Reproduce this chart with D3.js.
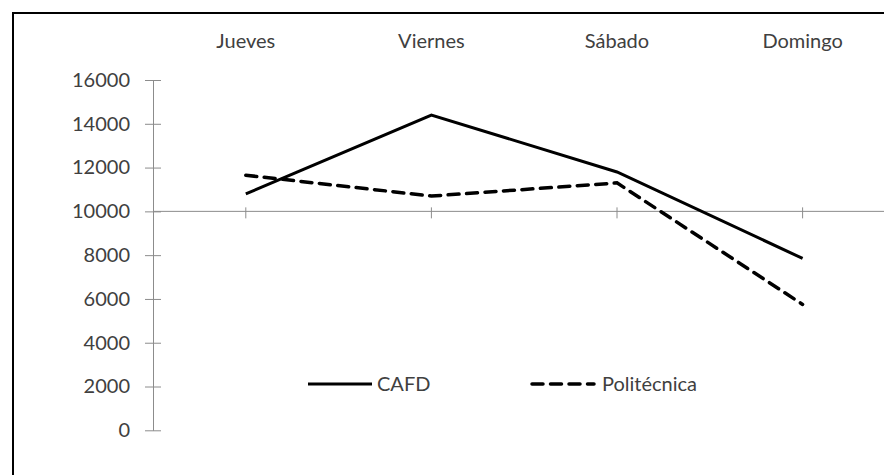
<!DOCTYPE html>
<html>
<head>
<meta charset="utf-8">
<script src="https://cdn.jsdelivr.net/npm/d3@7.9.0/dist/d3.min.js"></script>
<style>
  body { margin: 0; background: #fff; }
  svg { display: block; font-family: Lato, "Open Sans", sans-serif; }
  .lbl { fill: #404040; font-size: 20px; }
</style>
</head>
<body>
<svg id="chart" width="884" height="475"></svg>
<script>
const days = ["Jueves", "Viernes", "Sábado", "Domingo"];
const cafd = [10800, 14400, 11800, 7850];
const politecnica = [11650, 10700, 11300, 5750];
const yTicks = [0, 2000, 4000, 6000, 8000, 10000, 12000, 14000, 16000];
const seriesNames = ["CAFD", "Politécnica"];

const svg = d3.select("#chart");

// outer frame (runs off the right and bottom edge like the original)
svg.append("rect")
    .attr("x", 13).attr("y", 13)
    .attr("width", 900).attr("height", 500)
    .attr("fill", "none")
    .attr("stroke", "#000")
    .attr("stroke-width", 2);

const plotLeft = 153, plotTop = 80, plotBottom = 430.3;
const dash = "11,7.5";

let y = d3.scaleLinear().domain([0, 16000]).range([plotBottom, plotTop]);
let x = d3.scaleBand().domain(days).range([plotLeft, plotLeft + 4 * 185.6]);
let xc = d => x(d) + x.bandwidth() / 2;

// y axis
let yAxis = svg.append("g")
    .attr("transform", `translate(${plotLeft},0)`)
    .call(d3.axisLeft(y).tickValues(yTicks).tickFormat(d3.format("d")).tickSize(0).tickPadding(23));
yAxis.attr("font-family", null).attr("font-size", null);
yAxis.select(".domain").attr("stroke", "#8c8c8c");
yAxis.selectAll(".tick line")
    .attr("x1", -8).attr("x2", 8)
    .attr("stroke", "#8c8c8c");
yAxis.selectAll(".tick text")
    .attr("class", "lbl")
    .attr("fill", null);

// horizontal axis crosses at 10000
const y0 = y(10000);
svg.append("line")
    .attr("x1", plotLeft).attr("x2", 884)
    .attr("y1", y0).attr("y2", y0)
    .attr("stroke", "#8c8c8c");

svg.selectAll(".xtick")
    .data(days)
    .enter()
    .append("line")
    .attr("x1", xc).attr("x2", xc)
    .attr("y1", y0 - 4).attr("y2", y0 + 7)
    .attr("stroke", "#8c8c8c");

// category labels at the top
svg.selectAll(".cat")
    .data(days)
    .enter()
    .append("text")
    .attr("class", "lbl")
    .attr("x", xc)
    .attr("y", 48)
    .attr("text-anchor", "middle")
    .text(d => d);

let line = d3.line()
    .x((d, i) => xc(days[i]))
    .y(d => y(d));

svg.append("path")
    .datum(cafd)
    .attr("d", line)
    .attr("fill", "none")
    .attr("stroke", "#000")
    .attr("stroke-width", 3);

svg.append("path")
    .datum(politecnica)
    .attr("d", line)
    .attr("fill", "none")
    .attr("stroke", "#000")
    .attr("stroke-width", 3.5)
    .attr("stroke-linecap", "round")
    .attr("stroke-dasharray", dash);

// legend
const legend = [
    { name: seriesNames[0], x: 308, dash: null },
    { name: seriesNames[1], x: 532, dash: dash }
];
let lg = svg.selectAll(".leg")
    .data(legend)
    .enter()
    .append("g")
    .attr("transform", d => `translate(${d.x},384)`);
lg.append("line")
    .attr("x1", 0).attr("x2", d => d.dash ? 62 : 64)
    .attr("stroke", "#000")
    .attr("stroke-width", d => d.dash ? 3.5 : 3)
    .attr("stroke-linecap", d => d.dash ? "round" : "butt")
    .attr("stroke-dasharray", d => d.dash);
lg.append("text")
    .attr("class", "lbl")
    .attr("x", d => d.dash ? 70 : 69)
    .attr("dy", "0.35em")
    .text(d => d.name);
</script>
</body>
</html>
